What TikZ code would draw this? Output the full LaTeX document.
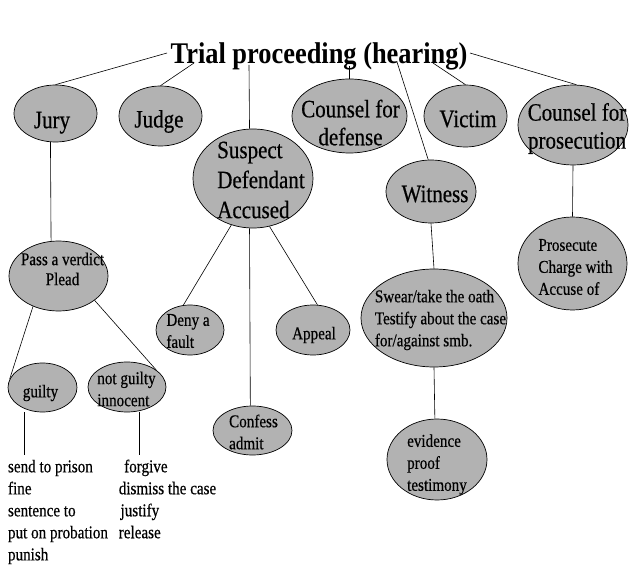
\documentclass[tikz,border=0pt]{standalone}
\usepackage{fontspec}
\setmainfont{Liberation Serif}[FakeStretch=0.84, FakeBold=0.5]
\newfontfamily\titlefont{Liberation Serif}[FakeStretch=0.88]
\usetikzlibrary{shapes.geometric,calc}
\begin{document}
\begin{tikzpicture}[x=1pt,y=-1pt,
  ell/.style={ellipse, draw=black, line width=0.7pt, fill=gray!60, inner sep=0pt},
  tA/.style={inner sep=0pt, font=\fontsize{25}{28}\selectfont, align=center},
  tB/.style={inner sep=0pt, font=\fontsize{18}{22}\selectfont, align=left},
  con/.style={line width=0.6pt}]
\useasboundingbox (0,0) rectangle (635,572);
% ellipses
\node[ell, minimum width=83pt, minimum height=57pt] (jury) at (55.5,113.5) {};
\node[ell, minimum width=83pt, minimum height=60pt] (judge) at (160.5,116) {};
\node[ell, minimum width=120pt, minimum height=99pt] (suspect) at (253,178.5) {};
\node[ell, minimum width=115pt, minimum height=74pt] (cd) at (349.5,116) {};
\node[ell, minimum width=83pt, minimum height=62pt] (victim) at (465.5,116) {};
\node[ell, minimum width=110pt, minimum height=80pt] (cp) at (573,125) {};
\node[ell, minimum width=90pt, minimum height=63pt] (witness) at (431,191.5) {};
\node[ell, minimum width=99pt, minimum height=70pt] (pass) at (58.5,276) {};
\node[ell, minimum width=69pt, minimum height=49pt] (guilty) at (42.5,387.5) {};
\node[ell, minimum width=78pt, minimum height=50pt] (ng) at (127,387) {};
\node[ell, minimum width=68pt, minimum height=50pt] (deny) at (190,330) {};
\node[ell, minimum width=74pt, minimum height=50pt] (appeal) at (313,330) {};
\node[ell, minimum width=79pt, minimum height=49pt] (confess) at (252.5,430.5) {};
\node[ell, minimum width=146pt, minimum height=98pt] (swear) at (434,318) {};
\node[ell, minimum width=100pt, minimum height=81pt] (evid) at (437,459.5) {};
\node[ell, minimum width=109pt, minimum height=93pt] (pros) at (572.5,263.5) {};
% texts
\node[inner sep=0pt, font=\titlefont\fontsize{30}{36}\selectfont\bfseries] (title) at (319,56) {Trial proceeding (hearing)};
\node[tA] (jury-t) at (52,122.7) {Jury};
\node[tA] (judge-t) at (159,121.5) {Judge};
\node[tA] (cd-t) at (350.5,122.6) {Counsel for\\defense};
\node[tA] (victim-t) at (468,119) {Victim};
\node[tA] (cp-t) at (577,128.5) {Counsel for\\prosecution};
\node[tA, align=left, font=\fontsize{25}{30}\selectfont] (suspect-t) at (261,180) {Suspect\\Defendant\\Accused};
\node[tA] (witness-t) at (435,194) {Witness};
\node[tB, align=center, font=\fontsize{18}{20}\selectfont] (pass-t) at (62.5,269) {Pass a verdict\\Plead};
\node[tB] (guilty-t) at (40.5,393) {guilty};
\node[tB] (ng-t) at (126.5,389) {not guilty\\innocent};
\node[tB] (deny-t) at (188,331) {Deny a\\fault};
\node[tB] (appeal-t) at (314,335) {Appeal};
\node[tB] (confess-t) at (253.5,432) {Confess\\admit};
\node[tB] (swear-t) at (440.5,320) {Swear/take the oath\\Testify about the case\\for/against smb.};
\node[tB] (evid-t) at (437,464.5) {evidence\\proof\\testimony};
\node[tB] (pros-t) at (575.5,267) {Prosecute\\Charge with\\Accuse of};
\node[tB] (gl) at (58,512) {send to prison\\fine\\sentence to\\put on probation\\punish};
\node[tB] (ngl) at (167.5,499) {\hspace*{0.3em}forgive\\dismiss the case\\\hspace*{0.1em}justify\\release};
% connection points on the title
\coordinate (tJ) at (167,53);
\coordinate (tG) at (194,63);
\coordinate (tS) at (249,65);
\coordinate (tD) at (349.5,66);
\coordinate (tW) at (397,62);
\coordinate (tV) at (433,63);
\coordinate (tP) at (470,53);
% connectors
\draw[con] (tJ) -- (jury.north);
\draw[con] (tG) -- (judge.north);
\draw[con] (tS) -- (suspect.94);
\draw[con] (tD) -- (cd.north);
\draw[con] (tW) -- (witness.95);
\draw[con] (tV) -- (victim.north);
\draw[con] (tP) -- (cp.85);
\draw[con] (jury.260) -- (pass.102);
\draw[con] (pass.230) -- (guilty.166);
\draw[con] (pass.326) -- (ng.30);
\draw[con] ([xshift=-18.5pt]guilty.south) -- ++(0,43);
\draw[con] ([xshift=12pt]ng.south) -- ++(0,43);
\draw[con] (suspect.245) -- (deny.105);
\draw[con] (suspect.266) -- (confess.95);
\draw[con] (suspect.289) -- (appeal.80);
\draw[con] (witness.south) -- (swear.north);
\draw[con] (swear.south) -- (evid.93);
\draw[con] (cp.south) -- (pros.north);
\end{tikzpicture}
\end{document}
